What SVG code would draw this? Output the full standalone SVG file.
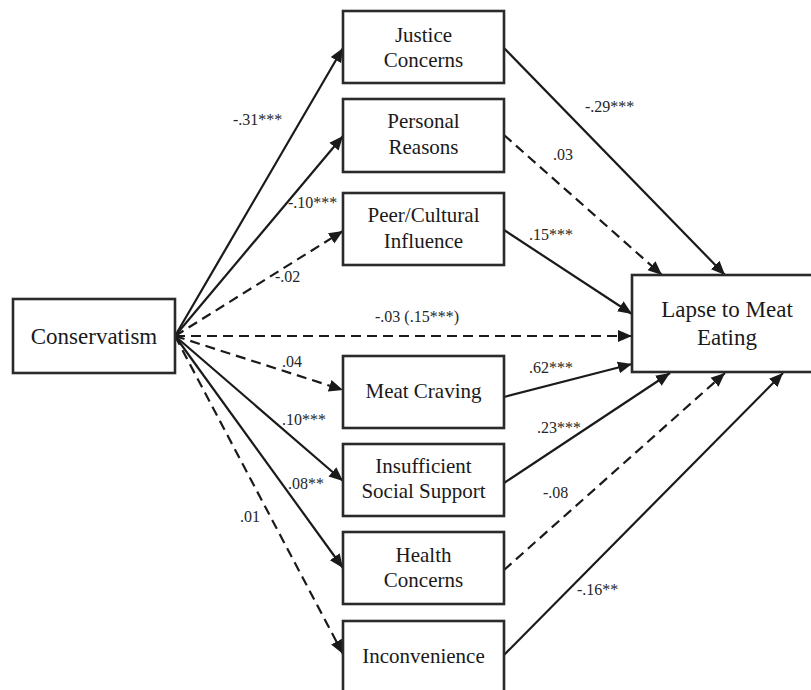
<svg xmlns="http://www.w3.org/2000/svg" width="811" height="690" viewBox="0 0 811 690">
<style>
.box{fill:#fff;stroke:#2a2a2a;stroke-width:2.6}
.nt{font-size:21px;fill:#1a1a1a;text-anchor:middle}
.big{font-size:23px}
.ln{fill:none;stroke:#1a1a1a;stroke-width:2.2;marker-end:url(#ah)}
.ds{stroke-dasharray:10 6}
.lb{font-size:16px;fill:#262626}
</style>
<defs>
<marker id="ah" markerUnits="userSpaceOnUse" markerWidth="16" markerHeight="14" refX="14" refY="6" orient="auto" viewBox="0 0 16 12">
<path d="M0,0 L14,6 L0,12 Z" fill="#1a1a1a"/>
</marker>
</defs>
<rect width="811" height="690" fill="#fff"/>
<g id="connectors">
<line class="ln" x1="175" y1="336" x2="343" y2="48"/>
<line class="ln" x1="175" y1="336" x2="343" y2="136"/>
<line class="ln ds" x1="175" y1="336" x2="343" y2="231"/>
<line class="ln ds" x1="175" y1="336" x2="632" y2="336"/>
<line class="ln ds" x1="175" y1="336" x2="343" y2="390"/>
<line class="ln" x1="175" y1="336" x2="343" y2="481"/>
<line class="ln" x1="175" y1="336" x2="343" y2="568"/>
<line class="ln ds" x1="175" y1="336" x2="343" y2="654"/>
<line class="ln" x1="504" y1="48" x2="725" y2="275"/>
<line class="ln ds" x1="504" y1="135" x2="662" y2="275"/>
<line class="ln" x1="504" y1="230" x2="632" y2="314"/>
<line class="ln" x1="504" y1="397" x2="632" y2="364"/>
<line class="ln" x1="504" y1="483" x2="670" y2="373"/>
<line class="ln ds" x1="504" y1="570" x2="725" y2="373"/>
<line class="ln" x1="504" y1="655" x2="783" y2="373"/>
</g>
<g id="labels" font-family="Liberation Serif, DejaVu Serif, Noto Serif, Times New Roman, Times, serif">
<text class="lb" x="233" y="125">-.31***</text>
<text class="lb" x="288" y="208">-.10***</text>
<text class="lb" x="275" y="282">-.02</text>
<text class="lb" x="375" y="322">-.03 (.15***)</text>
<text class="lb" x="282" y="367">.04</text>
<text class="lb" x="282" y="425">.10***</text>
<text class="lb" x="288" y="489">.08**</text>
<text class="lb" x="240" y="522">.01</text>
<text class="lb" x="585" y="112">-.29***</text>
<text class="lb" x="553" y="160">.03</text>
<text class="lb" x="529" y="240">.15***</text>
<text class="lb" x="529" y="373">.62***</text>
<text class="lb" x="537" y="433">.23***</text>
<text class="lb" x="543" y="498">-.08</text>
<text class="lb" x="577" y="595">-.16**</text>
</g>
<g id="nodes" font-family="Liberation Serif, DejaVu Serif, Noto Serif, Times New Roman, Times, serif">
<g id="conservatism">
<rect class="box" x="13" y="299" width="162" height="74"/>
<text class="nt big" x="94" y="344">Conservatism</text>
</g>
<g id="justice">
<rect class="box" x="343" y="11" width="161" height="72"/>
<text class="nt" x="423.5" y="42">Justice</text>
<text class="nt" x="423.5" y="67">Concerns</text>
</g>
<g id="personal">
<rect class="box" x="343" y="99" width="161" height="73"/>
<text class="nt" x="423.5" y="128">Personal</text>
<text class="nt" x="423.5" y="154">Reasons</text>
</g>
<g id="peer">
<rect class="box" x="343" y="193" width="161" height="72"/>
<text class="nt" x="423.5" y="222">Peer/Cultural</text>
<text class="nt" x="423.5" y="248">Influence</text>
</g>
<g id="craving">
<rect class="box" x="343" y="356" width="161" height="72"/>
<text class="nt" x="423.5" y="398">Meat Craving</text>
</g>
<g id="support">
<rect class="box" x="343" y="444" width="161" height="72"/>
<text class="nt" x="423.5" y="473">Insufficient</text>
<text class="nt" x="423.5" y="498">Social Support</text>
</g>
<g id="health">
<rect class="box" x="343" y="532" width="161" height="72"/>
<text class="nt" x="423.5" y="562">Health</text>
<text class="nt" x="423.5" y="587">Concerns</text>
</g>
<g id="inconvenience">
<rect class="box" x="343" y="621" width="161" height="80"/>
<text class="nt" x="423.5" y="663">Inconvenience</text>
</g>
<g id="lapse">
<rect class="box" x="632" y="275" width="190" height="97"/>
<text class="nt big" x="727" y="317">Lapse to Meat</text>
<text class="nt big" x="727" y="345">Eating</text>
</g>
</g>
</svg>
